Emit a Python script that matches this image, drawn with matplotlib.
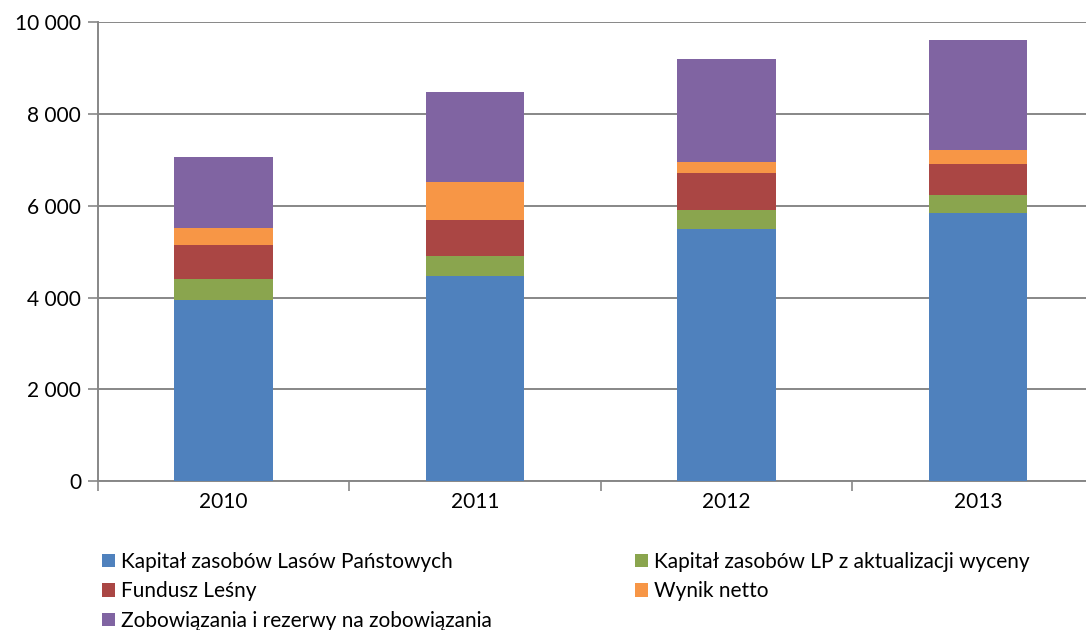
import matplotlib
matplotlib.use("Agg")
import matplotlib.pyplot as plt
from matplotlib.ticker import FuncFormatter, FixedLocator

plt.rcParams['font.family'] = ['Lato', 'DejaVu Sans']

years = ["2010", "2011", "2012", "2013"]
kapital_lp = [3958, 4461, 5497, 5847]
kapital_aktualizacja = [453, 453, 422, 400]
fundusz_lesny = [743, 786, 794, 663]
wynik_netto = [372, 831, 255, 314]
zobowiazania = [1544, 1961, 2230, 2404]

series_names = [
    "Kapitał zasobów Lasów Państowych",
    "Kapitał zasobów LP z aktualizacji wyceny",
    "Fundusz Leśny",
    "Wynik netto",
    "Zobowiązania i rezerwy na zobowiązania",
]
series_values = [kapital_lp, kapital_aktualizacja, fundusz_lesny, wynik_netto, zobowiazania]
colors = ["#4F81BD", "#8AA54E", "#AA4644", "#F79646", "#8064A2"]

fig = plt.figure(figsize=(10.86, 6.30), dpi=100)
ax = fig.add_axes([0.090, 0.2365, 0.9263, 0.7278])

x = list(range(len(years)))
bottom = [0] * len(years)
handles = []
for name, vals, col in zip(series_names, series_values, colors):
    h = ax.bar(x, vals, width=0.39, bottom=bottom, color=col, label=name,
               zorder=3, linewidth=0)
    handles.append(h)
    bottom = [b + v for b, v in zip(bottom, vals)]

ax.set_xlim(-0.5, len(years) - 0.5)
ax.set_ylim(0, 10000)
ax.set_yticks(range(0, 10001, 2000))
ax.yaxis.set_major_formatter(FuncFormatter(lambda v, p: f"{int(v):,}".replace(",", " ")))
ax.grid(axis="y", color="#878787", linewidth=1.4, zorder=0)

# category boundaries get tick marks, labels sit centred between them
ax.xaxis.set_major_locator(FixedLocator([i - 0.5 for i in range(len(years) + 1)]))
ax.xaxis.set_minor_locator(FixedLocator(x))
ax.set_xticklabels([], minor=False)
ax.set_xticklabels(years, minor=True)
ax.tick_params(axis="x", which="major", length=7, width=1.2, color="#878787", direction="out")
ax.tick_params(axis="x", which="minor", length=0, pad=8, labelsize=15)
ax.tick_params(axis="y", length=7, width=1.2, color="#878787", direction="out", pad=5, labelsize=15)

for s in ("top", "right"):
    ax.spines[s].set_visible(False)
for s in ("left", "bottom"):
    ax.spines[s].set_color("#878787")
    ax.spines[s].set_linewidth(1.4)

order = [0, 2, 4, 1, 3]
leg = fig.legend([handles[i] for i in order], [series_names[i] for i in order],
                 ncol=2, loc="upper left", bbox_to_anchor=(0.094, 0.124),
                 frameon=False, fontsize=15, handlelength=0.6, handleheight=0.6,
                 handletextpad=0.3, columnspacing=6.9, labelspacing=0.45,
                 borderaxespad=0, borderpad=0)

fig.savefig("out.png", dpi=100)
